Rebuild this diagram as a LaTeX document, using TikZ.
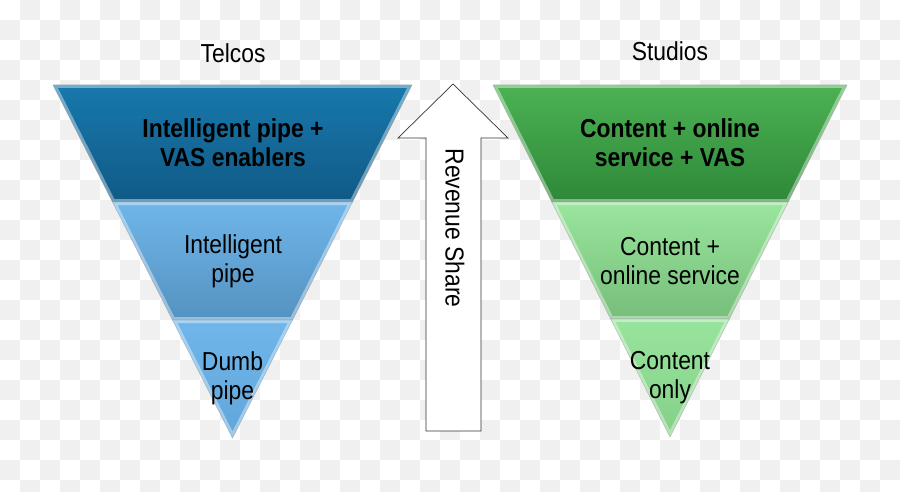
\documentclass[tikz,border=0pt]{standalone}
\usepackage{fontspec}
\setmainfont{Liberation Sans}[FakeStretch=0.88]
\begin{document}
\begin{tikzpicture}[x=1pt,y=-1pt,
  lbl/.style={align=center,font=\fontsize{26}{29}\selectfont,inner sep=0pt},
  blbl/.style={lbl,font=\fontsize{26}{29}\selectfont\bfseries},
  rim/.style={draw=white,draw opacity=0.4,line width=6pt},
  edge/.style={draw=black!40,draw opacity=0.5,line width=0.6pt}]
\useasboundingbox (0,0) rectangle (900,492);
% checkerboard background
\fill[white] (0,0) rectangle (900,492);
\foreach \i in {0,...,44}{
  \foreach \j in {0,...,24}{
    \pgfmathtruncatemacro\k{mod(\i+\j,2)}
    \ifnum\k=1 \fill[black!6] (\i*20,\j*20) rectangle ++(20,20); \fi
  }
}
\definecolor{lAt}{RGB}{24,120,172}\definecolor{lAb}{RGB}{16,90,134}
\definecolor{lBt}{RGB}{112,182,234}\definecolor{lBb}{RGB}{84,146,192}
\definecolor{lCt}{RGB}{112,182,234}\definecolor{lCb}{RGB}{96,166,218}
\definecolor{rAt}{RGB}{76,178,84}\definecolor{rAb}{RGB}{46,136,56}
\definecolor{rBt}{RGB}{154,230,158}\definecolor{rBb}{RGB}{118,190,122}
\definecolor{rCt}{RGB}{152,228,156}\definecolor{rCb}{RGB}{132,208,136}
% left funnel coordinates
\coordinate (LA1) at (53,85); \coordinate (LA2) at (412,85);
\coordinate (LB1) at (112.5,202); \coordinate (LB2) at (352.5,202);
\coordinate (LC1) at (172.5,320); \coordinate (LC2) at (292.5,320);
\coordinate (LD) at (232.5,438);
% right funnel coordinates
\coordinate (RA1) at (493,85); \coordinate (RA2) at (847,85);
\coordinate (RB1) at (551.8,202); \coordinate (RB2) at (788.2,202);
\coordinate (RC1) at (610.7,319); \coordinate (RC2) at (729.3,319);
\coordinate (RD) at (670,437);
% bands
\foreach \p/\t/\b in {
  {(LA1)--(LA2)--(LB2)--(LB1)--cycle}/lAt/lAb,
  {(LB1)--(LB2)--(LC2)--(LC1)--cycle}/lBt/lBb,
  {(LC1)--(LC2)--(LD)--cycle}/lCt/lCb,
  {(RA1)--(RA2)--(RB2)--(RB1)--cycle}/rAt/rAb,
  {(RB1)--(RB2)--(RC2)--(RC1)--cycle}/rBt/rBb,
  {(RC1)--(RC2)--(RD)--cycle}/rCt/rCb}{
  \shade[top color=\t,bottom color=\b] \p;
  \begin{scope}
    \clip \p;
    \path[rim] \p;
  \end{scope}
  \path[edge] \p;
}
% titles
\node[lbl] (telcos) at (233,53) {Telcos};
\node[lbl] (studios) at (670,51) {Studios};
% left texts
\node[blbl] (la) at (233,143) {Intelligent pipe +\\VAS enablers};
\node[lbl] (lb) at (233,261) {Intelligent\\pipe};
\node[lbl] (lc) at (232.5,378) {Dumb\\pipe};
% right texts
\node[blbl] (ra) at (670,143) {Content + online\\service + VAS};
\node[lbl] (rb) at (670,261) {Content +\\online service};
\node[lbl] (rc) at (670,378) {Content\\only};
% revenue share arrow
\draw[fill=white,draw=black!80,line width=0.7pt]
  (453,84) -- (508,138) -- (481,138) -- (481,431) -- (426,431) -- (426,138) -- (398,138) -- cycle;
\node[lbl,rotate=-90] (rev) at (455,228) {Revenue Share};
\end{tikzpicture}
\end{document}
